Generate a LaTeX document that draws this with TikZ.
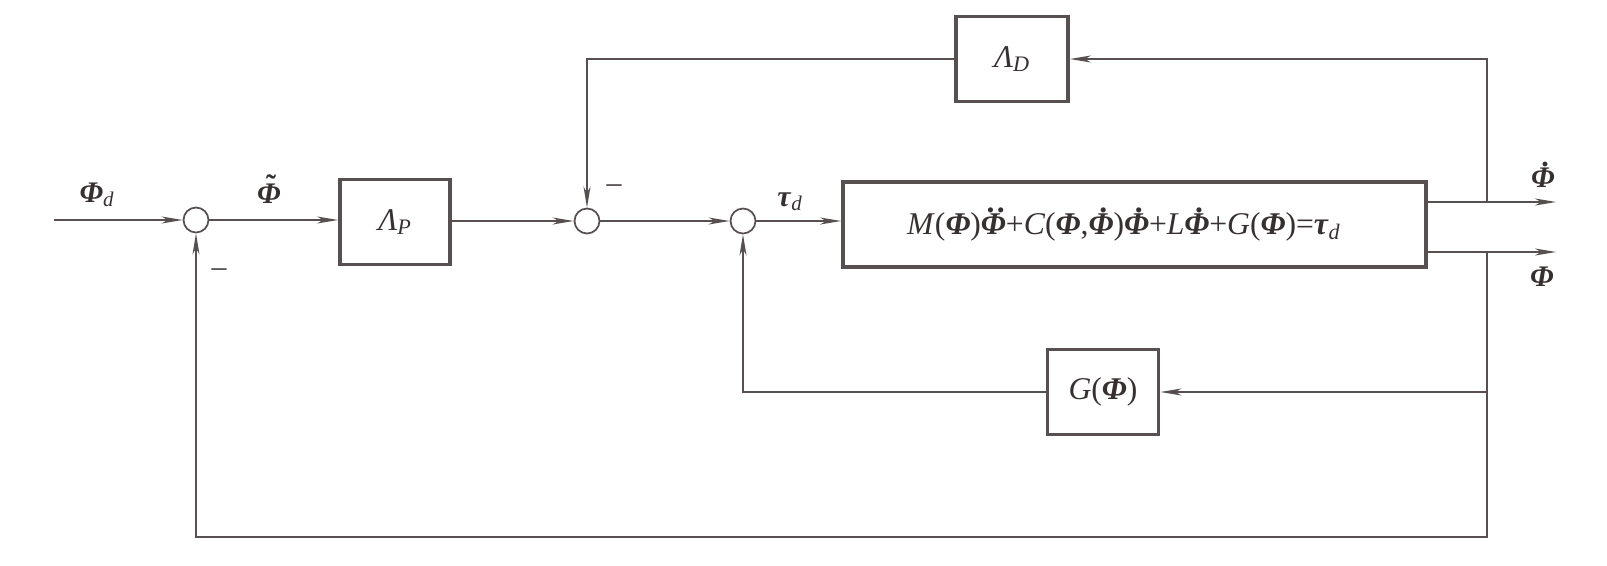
\documentclass[tikz,border=0pt]{standalone}
\usepackage{fontspec}
\setmainfont{Liberation Serif}
\usetikzlibrary{arrows.meta}
\definecolor{lc}{RGB}{88,80,80}
\definecolor{tc}{RGB}{55,48,48}
\newcommand{\mkover}[4]{\leavevmode\setbox0\hbox{#1}\rlap{\hbox to\wd0{\hss\kern#3\raisebox{\dimexpr\ht0+#4\relax}{#2}\hss}}\box0}
\newcommand{\Pb}{\textbf{\textit{Φ}}}
\newcommand{\Pd}{\mkover{\Pb}{\textbf{.}}{0.14em}{0.02em}}
\newcommand{\Pdd}{\mkover{\Pb}{\textbf{.\kern0.08em.}}{0.14em}{0.02em}}
\newcommand{\Pt}{\mkover{\Pb}{\textbf{˜}}{0.14em}{-0.42em}}
\newcommand{\Tb}{\textbf{\textit{τ}}}
\newcommand{\sub}[1]{\textsubscript{\textit{#1}}}
\begin{document}
\begin{tikzpicture}[x=0.02cm,y=-0.02cm,
  line width=1pt, lc,
  arr/.style={draw=lc,-{Stealth[length=12pt,width=4pt,inset=3.5pt]}},
  blk/.style={draw=lc,line width=2.2pt,inner sep=0pt,text=tc},
  sumc/.style={circle,draw=lc,line width=1pt,minimum size=0.5cm,inner sep=0pt,fill=white},
  lbl/.style={text=tc,inner sep=0pt,font=\fontsize{17}{20}\selectfont},
  big/.style={font=\fontsize{18}{21}\selectfont},
  mid/.style={font=\fontsize{18}{21}\selectfont}]
\useasboundingbox (0,0) rectangle (1607,565);
% summing junctions
\node[sumc] (s1) at (196,220) {};
\node[sumc] (s2) at (587,221) {};
\node[sumc] (s3) at (743,221) {};
% blocks
\node[blk,mid,minimum width=2.2cm,minimum height=1.7cm] (LP) at (395,222) {\textit{Λ}\sub{P}};
\node[blk,mid,minimum width=2.24cm,minimum height=1.7cm] (LD) at (1012,59) {\textit{Λ}\sub{D}};
\node[blk,big,minimum width=11.66cm,minimum height=1.7cm] (M) at (1134.5,224.5)
  {\textit{M}(\Pb)\Pdd+\textit{C}(\Pb,\Pd)\Pd+\textit{L}\Pd+\textit{G}(\Pb)=\Tb\sub{d}\kern12pt};
\node[blk,big,minimum width=2.22cm,minimum height=1.7cm] (G) at (1103,392) {\textit{G}(\Pb)};
% coordinates
\coordinate (in) at (54,220);
\coordinate (o1) at (1556,202);
\coordinate (o2) at (1556,252);
\coordinate (b1) at (1487,202);
\coordinate (b2) at (1487,252);
\coordinate (bot) at (1487,537);
% forward path
\draw[arr] (in) -- (s1);
\draw[arr] (s1) -- (s1 -| LP.west);
\draw[arr] (LP.east |- s2) -- (s2);
\draw[arr] (s2) -- (s3);
\draw[arr] (s3) -- (s3 -| M.west);
\draw[arr] (M.east |- o1) -- (o1);
\draw[arr] (M.east |- o2) -- (o2);
% feedback paths
\draw[arr] (b1) |- (LD.east);
\draw[arr] (LD.west) -| (s2.north);
\draw[arr] (b2) |- (G.east);
\draw[arr] (G.west) -| (s3.south);
\draw[arr] (b2) -- (bot) -| (s1.south);
% labels
\node[lbl,anchor=base] (lPd) at (97,202) {\Pb\sub{d}};
\node[lbl,anchor=base] (lPt) at (269,203) {\Pt};
\node[lbl,anchor=base] (ltau) at (790,206) {\Tb\sub{d}};
\node[lbl,anchor=base] (lo1) at (1543,187) {\Pd};
\node[lbl,anchor=base] (lo2) at (1542,286) {\Pb};
\node[lbl] (m2) at (614,189) {–};
\node[lbl] (m1) at (219,273) {–};
\end{tikzpicture}
\end{document}
